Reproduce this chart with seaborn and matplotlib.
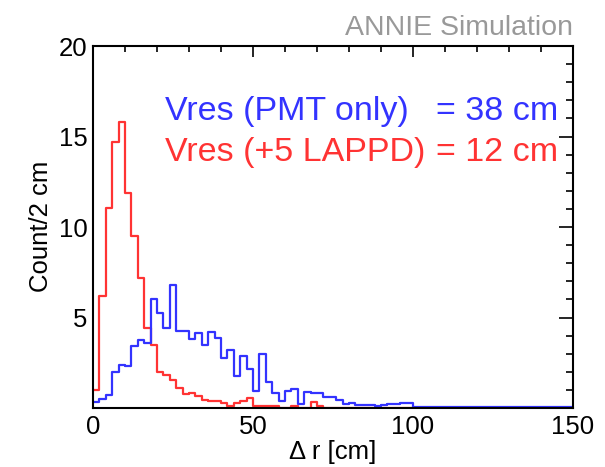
import numpy as np
import pandas as pd
import matplotlib
matplotlib.use("Agg")
import matplotlib.pyplot as plt
from matplotlib.ticker import MultipleLocator, FixedLocator
import seaborn as sns

# ---- data (Count per 2 cm bin) ----
bin_edges = list(range(0, 152, 2))

pmt_only = [0.35, 0.5, 0.7, 2.0, 2.4, 2.3, 3.4, 3.77, 3.6, 6.0,
            5.25, 4.4, 6.77, 4.28, 4.28, 3.8, 4.15, 3.48, 4.18, 3.85,
            2.75, 3.2, 1.77, 2.86, 2.14, 0.94, 3.0, 1.46, 0.85, 0.37,
            0.95, 1.05, 0.2, 0.9, 0.82, 0.82, 0.63, 0.63, 0.46, 0.2,
            0.3, 0.17, 0.17, 0.17, 0.1, 0.17, 0.2, 0.2, 0.3, 0.3,
            0.08, 0.08, 0.08, 0.08, 0.08, 0.08, 0.08, 0.08, 0.08, 0.08,
            0.08, 0.08, 0.08, 0.08, 0.08, 0.08, 0.08, 0.08, 0.08, 0.08,
            0.08, 0.08, 0.08, 0.08, 0.08]

with_lappd = [1.0, 6.2, 11.05, 14.7, 15.8, 11.9, 9.5, 7.2, 4.4, 3.5,
              2.0, 1.83, 1.52, 1.12, 0.8, 0.82, 0.68, 0.42, 0.38, 0.38,
              0.26, 0.1, 0.26, 0.39, 0.53, 0.1, 0.1, 0.1, 0.1, 0.0,
              0.0, 0.1, 0.0, 0.0, 0.35, 0.1, 0.0, 0.0, 0.0, 0.0,
              0.0, 0.0, 0.0, 0.0, 0.0, 0.0, 0.0, 0.0, 0.0, 0.0,
              0.0, 0.0, 0.0, 0.0, 0.0, 0.0, 0.0, 0.0, 0.0, 0.0,
              0.0, 0.0, 0.0, 0.0, 0.0, 0.0, 0.0, 0.0, 0.0, 0.0,
              0.0, 0.0, 0.0, 0.0, 0.0]

x_ticks = [0, 50, 100, 150]
y_ticks = [5, 10, 15, 20]
label_pmt = "Vres (PMT only)"
value_pmt = "= 38 cm"
label_lappd = "Vres (+5 LAPPD)"
value_lappd = "= 12 cm"

BLUE = "#3333ff"
RED = "#ff3333"

edges = np.array(bin_edges, dtype=float)
centers = (edges[:-1] + edges[1:]) / 2
df_pmt = pd.DataFrame({"dr": centers, "w": pmt_only})
df_lappd = pd.DataFrame({"dr": centers, "w": with_lappd})

sns.set_style("white")
plt.rcParams["font.family"] = ["Liberation Sans", "DejaVu Sans"]
plt.rcParams["text.color"] = "black"

fig = plt.figure(figsize=(6.05, 4.67), dpi=100)
ax = fig.add_axes([93 / 605, 1 - 408 / 467, (573 - 93) / 605, (408 - 46) / 467])

sns.histplot(data=df_lappd, x="dr", weights="w", bins=bin_edges, element="step",
             fill=False, color=RED, linewidth=1.6, ax=ax)
sns.histplot(data=df_pmt, x="dr", weights="w", bins=bin_edges, element="step",
             fill=False, color=BLUE, linewidth=1.6, ax=ax)

ax.set_xlim(0, 150)
ax.set_ylim(0, 20)
ax.xaxis.set_major_locator(FixedLocator(x_ticks))
ax.xaxis.set_minor_locator(MultipleLocator(10))
ax.yaxis.set_major_locator(FixedLocator(y_ticks))
ax.yaxis.set_minor_locator(MultipleLocator(1))
ax.set_xticklabels([str(t) for t in x_ticks])
ax.set_yticklabels([str(t) for t in y_ticks])

ax.tick_params(which="both", direction="in", top=True, right=True,
               color="black", labelcolor="black", width=1.2, labelsize=18.5)
ax.tick_params(axis="x", which="major", length=8, pad=5)
ax.tick_params(axis="x", which="minor", length=4.5)
ax.tick_params(axis="y", which="major", length=10, pad=4)
ax.tick_params(axis="y", which="minor", length=5)
for s in ax.spines.values():
    s.set_visible(True)
    s.set_color("black")
    s.set_linewidth(1.5)
    s.set_zorder(5)

ax.set_xlabel("")
ax.set_ylabel("")
fig.text(333 / 605, 1 - 452 / 467, "\u0394 r [cm]", ha="center", va="center",
         fontsize=18.5, color="black")
fig.text(41 / 605, 1 - 226 / 467, "Count/2 cm", ha="center", va="center",
         rotation=90, fontsize=18.5, color="black")

fig.text(573 / 605, 1 - 35 / 467, "ANNIE Simulation", ha="right", va="baseline",
         fontsize=20.5, color="#999999")

fig.text(165 / 605, 1 - 120 / 467, label_pmt, ha="left", va="baseline",
         fontsize=24.5, color=BLUE)
fig.text(558 / 605, 1 - 120 / 467, value_pmt, ha="right", va="baseline",
         fontsize=24.5, color=BLUE)
fig.text(165 / 605, 1 - 161 / 467, label_lappd, ha="left", va="baseline",
         fontsize=24.5, color=RED)
fig.text(558 / 605, 1 - 161 / 467, value_lappd, ha="right", va="baseline",
         fontsize=24.5, color=RED)

fig.savefig("out.png", dpi=100)
